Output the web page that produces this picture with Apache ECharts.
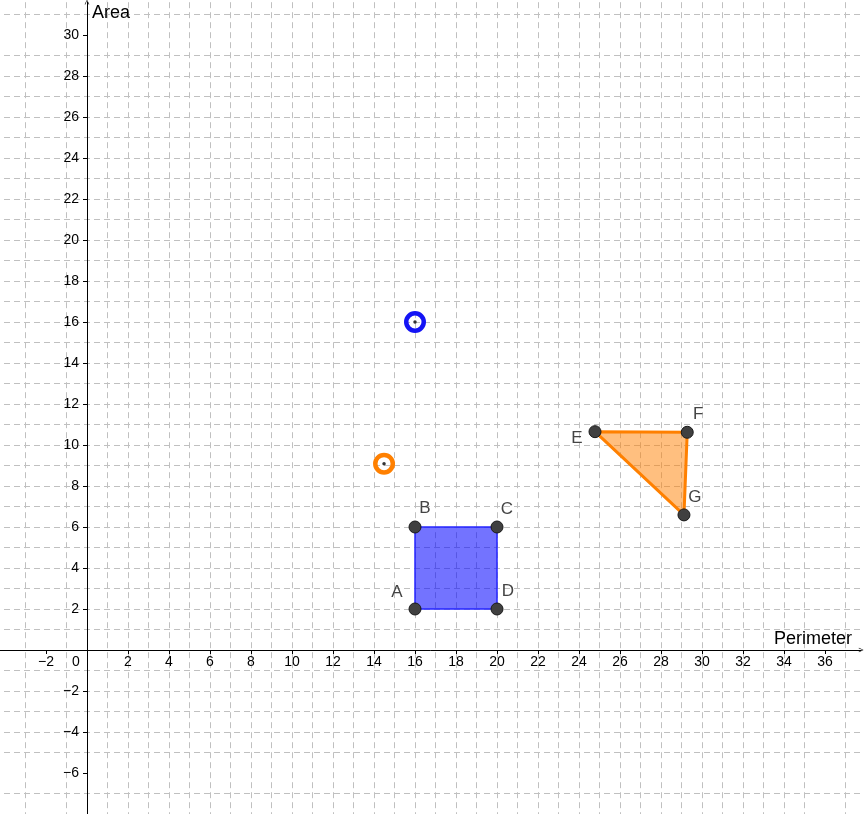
<!DOCTYPE html>
<html>
<head>
<meta charset="utf-8">
<title>Perimeter and Area</title>
<script src="https://cdn.jsdelivr.net/npm/echarts@6/dist/echarts.min.js"></script>
<style>
html, body { margin: 0; padding: 0; background: #fff; }
#chart { width: 864px; height: 814px; }
</style>
</head>
<body>
<div id="chart"></div>
<script>
// square ABCD
var squareNames = ['A', 'B', 'C', 'D'];
var squareX = [16, 16, 20, 20];
var squareY = [2, 6, 6, 2];

// triangle EFG
var triNames = ['E', 'F', 'G'];
var triX = [24.78, 29.28, 29.12];
var triY = [10.65, 10.62, 6.59];

// (perimeter, area) of each shape
var squareStat = [16, 16];
var triStat = [14.49, 9.09];

// tick labels
var xTicks = [-2, 2, 4, 6, 8, 10, 12, 14, 16, 18, 20, 22, 24, 26, 28, 30, 32, 34, 36];
var yTicks = [-6, -4, -2, 2, 4, 6, 8, 10, 12, 14, 16, 18, 20, 22, 24, 26, 28, 30];

// label offsets (px), style only
var labelOffset = {
    A: [-18, -17], B: [10, -19], C: [10, -18], D: [11, -18],
    E: [-18, 7], F: [11, -18], G: [11, -18]
};

var font = "'Liberation Sans', Arial, sans-serif";
var chevron = 'path://M0,10 L5,0 L10,10 L9,10.8 L5,2.4 L1,10.8 Z';

// plot area in px: origin at (87, 650), 20.5 px per unit
var gridLeft = -36, gridTop = 2.2, gridW = 897.08, gridH = 811.8;
var originX = 87, originY = 650;

function fmt(v) {
    return v < 0 ? '\u2212' + (-v) : String(v);
}

function pts(xs, ys) {
    return xs.map(function (x, i) { return [x, ys[i]]; });
}

function polygonSeries(xs, ys, fill, stroke, width) {
    var data = pts(xs, ys);
    return {
        type: 'custom',
        data: data,
        z: 2,
        silent: true,
        renderItem: function (params, api) {
            if (params.dataIndex !== 0) return;
            return {
                type: 'polygon',
                shape: { points: data.map(function (p) { return api.coord(p); }) },
                style: { fill: fill, stroke: stroke, lineWidth: width, lineJoin: 'round' }
            };
        }
    };
}

function vertexData(names, xs, ys) {
    return names.map(function (n, i) {
        return { name: n, value: [xs[i], ys[i]], label: { offset: labelOffset[n] } };
    });
}

var gridLine = { color: '#c0c0c0', width: 1, type: [6, 4] };

function axis(min, max, ticks) {
    return {
        type: 'value',
        min: min,
        max: max,
        interval: 2,
        axisLine: {
            onZero: false,
            symbol: ['none', chevron],
            symbolSize: [9, 5],
            lineStyle: { color: '#000', width: 1 }
        },
        axisTick: { show: true, length: 4, customValues: ticks, lineStyle: { color: '#000' } },
        axisLabel: {
            customValues: ticks,
            formatter: fmt,
            color: '#000',
            fontSize: 14,
            fontFamily: font
        },
        splitLine: { show: true, showMinLine: false, showMaxLine: false, lineStyle: gridLine },
        minorTick: { show: false, splitNumber: 2 },
        minorSplitLine: { show: true, lineStyle: gridLine }
    };
}

var xAxis = axis(-6, 37.76, xTicks);
xAxis.position = 'bottom';
xAxis.offset = -(gridTop + gridH - originY);
xAxis.name = 'Perimeter';
xAxis.nameLocation = 'end';
xAxis.nameGap = -9;
xAxis.nameTextStyle = { align: 'right', verticalAlign: 'bottom', padding: [0, 0, 2, 0], fontSize: 18, color: '#000', fontFamily: font };
xAxis.axisLabel.margin = 5;

var yAxis = axis(-8, 31.6, yTicks);
yAxis.position = 'left';
yAxis.offset = -(originX - gridLeft);
yAxis.name = 'Area';
yAxis.nameLocation = 'end';
yAxis.nameGap = -2;
yAxis.nameTextStyle = { align: 'left', verticalAlign: 'top', padding: [0, 0, 0, 5], fontSize: 18, color: '#000', fontFamily: font };
yAxis.axisLabel.margin = 8;

var chart = echarts.init(document.getElementById('chart'), null, { renderer: 'canvas' });

chart.setOption({
    animation: false,
    backgroundColor: '#fff',
    textStyle: { fontFamily: font },
    grid: {
        left: gridLeft, top: gridTop, width: gridW, height: gridH,
        containLabel: false, outerBoundsMode: 'none'
    },
    xAxis: xAxis,
    yAxis: yAxis,
    graphic: [{
        type: 'text',
        left: 72,
        top: 655,
        style: { text: '0', fontSize: 14, fill: '#000', fontFamily: font }
    }],
    series: [
        polygonSeries(squareX, squareY, 'rgba(0,0,255,0.55)', '#2626ff', 1.5),
        polygonSeries(triX, triY, 'rgba(255,128,0,0.5)', '#ff8000', 3),
        {
            type: 'scatter',
            z: 5,
            symbol: 'circle',
            symbolSize: 12,
            itemStyle: { color: '#404040', borderColor: '#1a1a1a', borderWidth: 1, opacity: 1 },
            label: {
                show: true,
                position: 'inside',
                formatter: '{b}',
                fontSize: 17,
                color: '#444',
                fontFamily: font
            },
            data: vertexData(squareNames, squareX, squareY).concat(vertexData(triNames, triX, triY))
        },
        {
            type: 'scatter',
            z: 5,
            symbol: 'circle',
            symbolSize: 17.5,
            itemStyle: { color: 'rgba(255,255,255,0)', borderColor: '#1414f5', borderWidth: 4.5, opacity: 1 },
            data: [squareStat]
        },
        {
            type: 'scatter',
            z: 5,
            symbol: 'circle',
            symbolSize: 17.5,
            itemStyle: { color: 'rgba(255,255,255,0)', borderColor: '#ff8000', borderWidth: 4.5, opacity: 1 },
            data: [triStat]
        },
        {
            type: 'scatter',
            z: 6,
            symbol: 'circle',
            symbolSize: 3.5,
            itemStyle: { color: '#333', opacity: 1 },
            data: [squareStat, triStat]
        }
    ]
});
</script>
</body>
</html>
